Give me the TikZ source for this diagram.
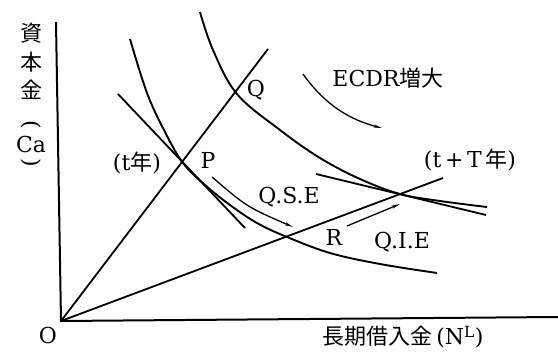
\documentclass[tikz,border=0pt]{standalone}
\usepackage{fontspec}
\usepackage{tikz}
\usetikzlibrary{arrows.meta}
\setmainfont{DejaVu Serif}
\newfontfamily\jpfont{Noto Sans CJK JP}
\newcommand{\jtxt}[1]{{\jpfont #1}}

\begin{document}
\begin{tikzpicture}[x=1pt, y=-1pt,
        lbl/.style={inner sep=1pt, font=\fontsize{22}{26}\selectfont},
        axis/.style={line width=2pt},
        ray/.style={line width=1.8pt},
        curve/.style={line width=1.9pt},
        shiftarrow/.style={-{Stealth[length=8pt,width=3pt]}, line width=1.3pt}]
    \useasboundingbox (0,0) rectangle (558,353);

    % axes
    \coordinate (O) at (61,321);
    \coordinate (ytop) at (56,22);
    \coordinate (xend) at (558,317);
    \draw [axis] (ytop) -- (O) -- (xend);

    % points
    \coordinate (P) at (183,163);
    \coordinate (Q) at (237,94);
    \coordinate (R) at (287,237);
    \coordinate (S) at (400,194);

    % expansion paths
    \coordinate (ray1) at (268,49);
    \coordinate (ray2) at (443,178);
    \draw [ray] (O) -- (ray1);
    \draw [ray] (O) -- (ray2);

    % isoquants
    \draw [curve] plot [smooth, tension=0.6] coordinates {(130,39) (147,93) (165,132) (P) (205,185) (230,205) (257,223) (R) (330,253) (380,264) (437,273)};
    \draw [curve] plot [smooth, tension=0.6] coordinates {(200,12) (213,50) (Q) (280,130) (320,158) (360,179) (S) (440,201) (487,207)};

    % tangents
    \coordinate (tanPa) at (118,94);
    \coordinate (tanPb) at (245,228);
    \coordinate (tanSa) at (316,174);
    \coordinate (tanSb) at (486,215);
    \draw [ray] (tanPa) -- (tanPb);
    \draw [ray] (tanSa) -- (tanSb);

    % shifts
    \coordinate (ecdrA) at (303,74);
    \coordinate (ecdrB) at (382,128);
    \coordinate (qseA) at (212,177);
    \coordinate (qseB) at (293,227);
    \coordinate (qieA) at (347,226);
    \coordinate (qieB) at (400,204);
    \draw [shiftarrow] (ecdrA) .. controls (325,105) and (350,120) .. (ecdrB);
    \draw [shiftarrow] (qseA) .. controls (247,207) .. (qseB);
    \draw [shiftarrow] (qieA) -- (qieB);

    % labels
    \node (lblQ) [lbl] at (256,90) {Q};
    \node (lblP) [lbl] at (208,160) {P};
    \node (lblR) [lbl] at (334,237) {R};
    \node (lblO) [lbl] at (48,335) {O};
    \node (tyear) [lbl] at (137,163) {(t\jtxt{年})};
    \node (tTyear) [lbl] at (470,160) {(t\,+\,T\,\jtxt{年})};
    \node (ecdr) [lbl] at (388,78) {ECDR\jtxt{増大}};
    \node (qse) [lbl] at (289,197) {Q.S.E};
    \node (qie) [lbl] at (402,242) {Q.I.E};
    \node (xlabel) [lbl] at (403,337) {\jtxt{長期借入金}\,(N\textsuperscript{L})};

    \node (ylab1) [lbl] at (31,33) {\jtxt{資}};
    \node (ylab2) [lbl] at (31,62) {\jtxt{本}};
    \node (ylab3) [lbl] at (31,90) {\jtxt{金}};
    \node (ylab4) [lbl, rotate=-90] at (31,125) {(};
    \node (ylab5) [lbl] at (31,144) {Ca};
    \node (ylab6) [lbl, rotate=-90] at (31,163) {)};
\end{tikzpicture}
\end{document}
